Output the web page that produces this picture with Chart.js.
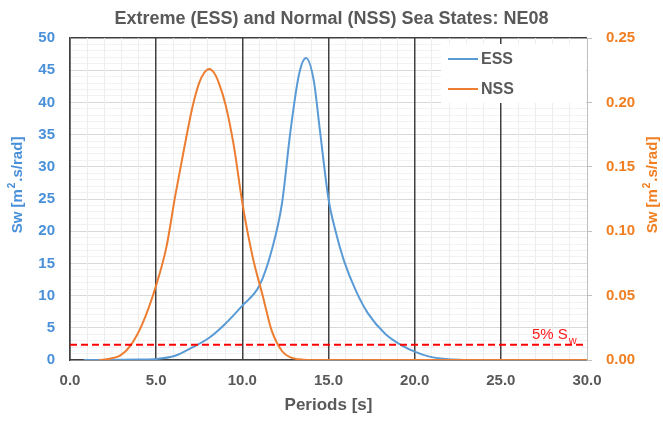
<!DOCTYPE html>
<html><head><meta charset="utf-8">
<script src="https://cdn.jsdelivr.net/npm/chart.js@4.4.1/dist/chart.umd.min.js"></script>
<style>html,body{margin:0;padding:0;background:#fff}#wrap{width:663px;height:422px;position:relative}</style>
</head><body><div id="wrap"><canvas id="c" width="663" height="422"></canvas></div>
<script>
// ---- data ----
const essPeriods = [0.8, 2.0, 3.0, 4.0, 5.0, 6.1, 7.1, 8.1, 9.0, 10.0, 11.0, 11.7, 12.3, 12.8, 13.3, 13.7, 14.15, 14.5, 15.0, 15.4, 15.9, 16.6, 17.3, 18.3, 19.3, 20.0, 20.8, 21.8, 23.0];
const essValues  = [0.0, 0.01, 0.03, 0.07, 0.15, 0.65, 1.95, 3.5, 5.6, 8.45, 11.6, 17.0, 24.3, 35.7, 44.5, 46.9, 43.3, 35.7, 25.0, 20.1, 15.4, 10.7, 7.2, 4.05, 2.2, 1.3, 0.56, 0.15, 0.0];
const nssPeriods = [1.7, 2.3, 2.9, 3.5, 4.2, 5.0, 5.6, 6.1, 6.62, 7.1, 7.49, 7.8, 8.07, 8.35, 8.64, 9.03, 9.51, 10.0, 10.6, 11.2, 11.7, 12.3, 12.8, 13.3, 13.8, 30.0];
const nssValues  = [0.0, 0.001, 0.0034, 0.011, 0.028, 0.058, 0.088, 0.127, 0.164, 0.196, 0.215, 0.2232, 0.226, 0.2232, 0.215, 0.198, 0.166, 0.122, 0.080, 0.049, 0.023, 0.007, 0.002, 0.0005, 0.0, 0.0];
const thresholdPeriods = [0, 30];
const thresholdValues  = [2.35, 2.35];   // 5% of ESS peak
const seriesNames = ['ESS', 'NSS'];
const thresholdLabel = '5% S';
const thresholdSub = 'w';
const titleText = 'Extreme (ESS) and Normal (NSS) Sea States: NE08';
const xTitle = 'Periods [s]';
const yTitleParts = ['Sw [m', '2', '.s/rad]'];   // middle part is a superscript

// ---- styles ----
const FONT = "'Liberation Sans',Arial,sans-serif";
const BLUE = '#5B9BD5', BLUE_T = '#4A90D9';
const ORANGE = '#ED7D31', ORANGE_T = '#F07F22';
const GRAY = '#595959';

const pts = (xs, ys) => xs.map((x, i) => ({x, y: ys[i]}));

function drawRotTitle(ctx, cx, cy, color) {
  ctx.save();
  ctx.translate(cx, cy); ctx.rotate(-Math.PI / 2);
  ctx.fillStyle = color; ctx.textBaseline = 'alphabetic'; ctx.textAlign = 'left';
  const big = "bold 15px " + FONT, small = "bold 10px " + FONT;
  ctx.font = big; const w0 = ctx.measureText(yTitleParts[0]).width, w2 = ctx.measureText(yTitleParts[2]).width;
  ctx.font = small; const w1 = ctx.measureText(yTitleParts[1]).width;
  const total = w0 + w1 + w2 + 2;
  let x = -total / 2; const base = 5;
  ctx.font = big; ctx.fillText(yTitleParts[0], x, base); x += w0 + 1;
  ctx.font = small; ctx.fillText(yTitleParts[1], x, base - 7); x += w1 + 1;
  ctx.font = big; ctx.fillText(yTitleParts[2], x, base);
  ctx.restore();
}

const decor = {
  id: 'decor',
  beforeDatasetsDraw(chart) {
    const ctx = chart.ctx, a = chart.chartArea;
    ctx.save();
    ctx.fillStyle = '#fff';
    ctx.fillRect(441, 44, a.right - 441 - 1, 59);
    const items = [[seriesNames[0], BLUE, 59], [seriesNames[1], ORANGE, 89]];
    ctx.font = "bold 16px " + FONT;
    ctx.textBaseline = 'middle';
    ctx.textAlign = 'left';
    for (const [t, c, y] of items) {
      ctx.strokeStyle = c; ctx.lineWidth = 2;
      ctx.beginPath(); ctx.moveTo(448, y); ctx.lineTo(478, y); ctx.stroke();
      ctx.fillStyle = GRAY; ctx.fillText(t, 481, y + 1);
    }
    ctx.restore();
  },
  afterDraw(chart) {
    const ctx = chart.ctx;
    drawRotTitle(ctx, 17, 185, BLUE_T);
    drawRotTitle(ctx, 652, 185, ORANGE_T);
    const yy = chart.scales.y.getPixelForValue(thresholdValues[0]);
    ctx.save();
    ctx.fillStyle = '#FF1A1A';
    ctx.font = "15px " + FONT;
    ctx.textAlign = 'left'; ctx.textBaseline = 'alphabetic';
    const x0 = 532;
    ctx.fillText(thresholdLabel, x0, yy - 6);
    const w = ctx.measureText(thresholdLabel).width;
    ctx.font = "11px " + FONT;
    ctx.fillText(thresholdSub, x0 + w + 1, yy - 1);
    ctx.restore();
  }
};

new Chart(document.getElementById('c'), {
  type: 'line',
  data: {
    datasets: [
      {label: 'threshold', data: pts(thresholdPeriods, thresholdValues), yAxisID: 'y',
       borderColor: '#FF0000', borderWidth: 2, borderDash: [7, 4], pointRadius: 0, order: 0},
      {label: seriesNames[1], data: pts(nssPeriods, nssValues), yAxisID: 'y1',
       borderColor: ORANGE, borderWidth: 2, pointRadius: 0, cubicInterpolationMode: 'monotone', order: 1},
      {label: seriesNames[0], data: pts(essPeriods, essValues), yAxisID: 'y',
       borderColor: BLUE, borderWidth: 2, pointRadius: 0, cubicInterpolationMode: 'monotone', order: 2}
    ]
  },
  options: {
    responsive: false, animation: false, devicePixelRatio: 1,
    layout: {padding: 0},
    plugins: {
      legend: {display: false}, tooltip: {enabled: false},
      title: {display: true, text: titleText, color: GRAY,
              font: {family: FONT, size: 18, weight: 'bold', lineHeight: 1.2},
              padding: {top: 8, bottom: 8.4}}
    },
    scales: {
      x: {
        type: 'linear', min: 0, max: 30,
        ticks: {stepSize: 1, autoSkip: false, maxRotation: 0, color: GRAY, padding: 12,
                font: {family: FONT, size: 15, weight: 'bold'},
                callback: v => (v % 5 === 0 ? v.toFixed(1) : '')},
        grid: {drawTicks: false, z: -1,
               color: c => { const v = c.tick.value; if (v === 30) return '#BFBFBF'; return v % 5 === 0 ? '#404040' : '#EDEDED'; },
               lineWidth: c => { const v = c.tick.value; return (v % 5 === 0 && v !== 30) ? 1.5 : 1; }},
        border: {color: '#404040', width: 1.5},
        title: {display: true, text: xTitle, color: GRAY, font: {family: FONT, size: 17, weight: 'bold'}, padding: {top: 0, bottom: 6}},
        afterFit: s => { s.height = 62; }
      },
      y: {
        position: 'left', min: 0, max: 50,
        ticks: {stepSize: 1, autoSkip: false, color: BLUE_T, padding: 15,
                font: {family: FONT, size: 15, weight: 'bold'},
                callback: v => (v % 5 === 0 ? String(v) : '')},
        grid: {drawTicks: false, z: -2,
               color: c => { const v = c.tick.value; if (v === 50) return '#404040'; return v % 5 === 0 ? '#D9D9D9' : '#F2F2F2'; },
               lineWidth: c => (c.tick.value === 50 ? 1.5 : 1)},
        border: {color: '#404040', width: 1.5},
        afterFit: s => { s.width = 70; }
      },
      y1: {
        position: 'right', min: 0, max: 0.25,
        ticks: {stepSize: 0.05, color: ORANGE_T, padding: 14,
                font: {family: FONT, size: 15, weight: 'bold'},
                callback: v => v.toFixed(2)},
        grid: {drawOnChartArea: false, drawTicks: true, tickLength: 5, color: '#BFBFBF'},
        border: {color: '#BFBFBF', width: 1},
        afterFit: s => { s.width = 76; }
      }
    }
  },
  plugins: [decor]
});
</script></body></html>
